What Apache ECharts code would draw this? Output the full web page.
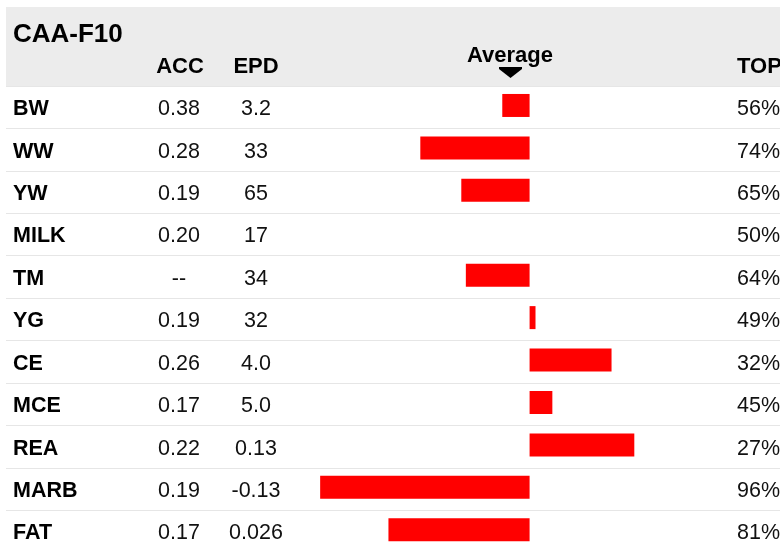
<!DOCTYPE html>
<html>
	<head>
		<title>CAA-F10</title>
		<meta charset="utf-8">
		<script type="text/javascript" src="https://cdn.jsdelivr.net/npm/echarts@6/dist/echarts.min.js"></script>
		<style>
			html, body {margin: 0;padding: 0;background: #fff;}
			#chart {width: 780px;height: 543px;}
		</style>
	</head>
	<body>
		<div id="chart"></div>
	</body>
	<script type="text/javascript">
		// 数据
		var traits = ['BW', 'WW', 'YW', 'MILK', 'TM', 'YG', 'CE', 'MCE', 'REA', 'MARB', 'FAT'];
		var accValues = ['0.38', '0.28', '0.19', '0.20', '--', '0.19', '0.26', '0.17', '0.22', '0.19', '0.17'];
		var epdValues = ['3.2', '33', '65', '17', '34', '32', '4.0', '5.0', '0.13', '-0.13', '0.026'];
		var topValues = [56, 74, 65, 50, 64, 49, 32, 45, 27, 96, 81];
		// bar offset from average (negative = left)
		var barValues = [-6, -24, -15, 0, -14, 1.3, 18, 5, 23, -46, -31];

		var FONT = "'Liberation Sans', Helvetica, Arial, sans-serif";

		var app = {
			data : {
				chart : null,
				rowH : 42.43
			},
			methods : {
				headerText : function(text, x, y, align, size){
					return {
						type: 'text', silent: true,
						style: {
							text: text, x: x, y: y,
							textAlign: align, textVerticalAlign: 'middle',
							font: 'bold ' + size + 'px ' + FONT, fill: '#000'
						}
					};
				},
				initChart : function(){
					var m = app.methods;
					app.data.chart = echarts.init(document.getElementById('chart'));
					app.data.chart.setOption({
						animation: false,
						backgroundColor: '#fff',
						graphic: [
							{type: 'rect', silent: true, z: -10, shape: {x: 6, y: 7, width: 774, height: 80}, style: {fill: '#ececec'}},
							m.headerText('CAA-F10', 13, 35, 'left', 26),
							m.headerText('ACC', 180, 67, 'center', 22),
							m.headerText('EPD', 256, 67, 'center', 22),
							m.headerText('Average', 510, 56, 'center', 22),
							m.headerText('TOP', 737, 67, 'left', 22),
							{type: 'polygon', silent: true, shape: {points: [[499, 67], [522, 67], [522, 69], [510.5, 78], [499, 69]]}, style: {fill: '#000'}}
						],
						grid: {
							left: 6, right: 0, top: 86, height: app.data.rowH * traits.length,
							outerBoundsMode: 'none', containLabel: false
						},
						xAxis: {
							type: 'value', min: -115, max: 55,
							axisLine: {show: false}, axisTick: {show: false},
							axisLabel: {show: false}, splitLine: {show: false}
						},
						yAxis: [{
							type: 'category', inverse: true, data: traits,
							axisLine: {show: false}, axisTick: {show: false},
							splitLine: {show: true, interval: 0, lineStyle: {color: '#e6e6e6', width: 1}},
							axisLabel: {
								inside: true, margin: 7, interval: 0, align: 'left',
								padding: [4, 0, 0, 0],
								formatter: function(value, index){
									return '{n|' + value + '}{a|' + accValues[index] + '}{e|' + epdValues[index] + '}';
								},
								rich: {
									n: {width: 136, align: 'left', fontFamily: FONT, fontWeight: 'bold', fontSize: 21.5, color: '#000'},
									a: {width: 60, align: 'center', fontFamily: FONT, fontSize: 21.5, color: '#111'},
									e: {width: 94, align: 'center', fontFamily: FONT, fontSize: 21.5, color: '#111'}
								}
							}
						}, {
							type: 'category', inverse: true, position: 'right', data: traits,
							axisLine: {show: false}, axisTick: {show: false}, splitLine: {show: false},
							axisLabel: {
								inside: true, margin: 43, interval: 0, align: 'left',
								padding: [4, 0, 0, 0],
								formatter: function(value, index){
									return '{t|' + topValues[index] + '%}';
								},
								rich: {
									t: {width: 43, align: 'left', fontFamily: FONT, fontSize: 21.5, color: '#111'}
								}
							}
						}],
						series: [{
							type: 'bar', yAxisIndex: 0, data: barValues,
							barWidth: 23, barGap: 0, itemStyle: {color: '#ff0000'}, silent: true
						}, {
							// empty spacer, nudges the red bars a little above the row middle
							type: 'bar', yAxisIndex: 0, data: traits.map(function(){ return '-'; }),
							barWidth: 3.5, silent: true
						}]
					});
				}
			},
			init : function(){
				app.methods.initChart();
			}
		};
		app.init();
	</script>
</html>
